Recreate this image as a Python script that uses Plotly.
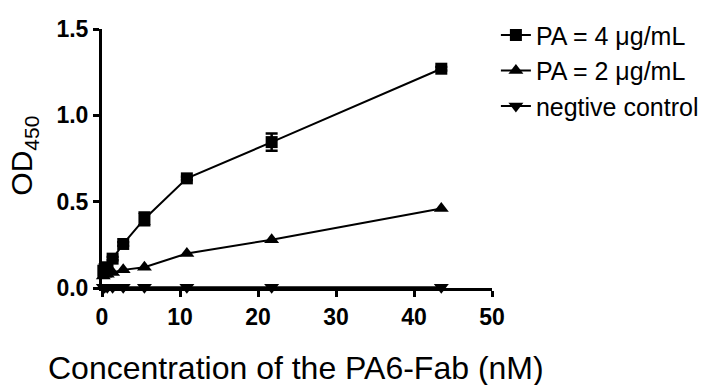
import plotly.graph_objects as go

conc = [0.17, 0.34, 0.68, 1.36, 2.72, 5.44, 10.88, 21.75, 43.5]
pa4 = [0.10, 0.11, 0.12, 0.17, 0.255, 0.40, 0.635, 0.845, 1.27]
pa4_err = [0.0, 0.0, 0.01, 0.01, 0.01, 0.037, 0.01, 0.05, 0.01]
pa2 = [0.07, 0.08, 0.08, 0.09, 0.105, 0.12, 0.20, 0.28, 0.46]
neg = [0.005, 0.005, 0.005, 0.005, 0.005, 0.005, 0.005, 0.005, 0.005]

names = ["PA = 4 \u03bcg/mL", "PA = 2 \u03bcg/mL", "negtive control"]
xticks = [0, 10, 20, 30, 40, 50]
yticks = [0.0, 0.5, 1.0, 1.5]
ytick_text = ["0.0", "0.5", "1.0", "1.5"]

FONT = "Arial, Liberation Sans, sans-serif"

fig = go.Figure()
fig.add_trace(go.Scatter(x=conc, y=pa4, name=names[0], mode="lines+markers",
                         line=dict(color="black", width=2),
                         marker=dict(symbol="square", size=12, color="black"),
                         error_y=dict(type="data", array=pa4_err, color="black", thickness=2.5, width=6),
                         cliponaxis=False))
fig.add_trace(go.Scatter(x=conc, y=pa2, name=names[1], mode="lines+markers",
                         line=dict(color="black", width=2),
                         marker=dict(symbol="triangle-up", size=13, color="black"),
                         cliponaxis=False))
fig.add_trace(go.Scatter(x=conc, y=neg, name=names[2], mode="lines+markers",
                         line=dict(color="black", width=2),
                         marker=dict(symbol="triangle-down", size=13, color="black"),
                         cliponaxis=False))

fig.update_layout(
    width=721, height=385,
    margin=dict(l=102, r=229, t=26, b=97),
    paper_bgcolor="white", plot_bgcolor="white",
    font=dict(family=FONT, color="black"),
    showlegend=True,
    legend=dict(x=1.01, y=1.065, xanchor="left", yanchor="top",
                font=dict(size=25, family=FONT), itemwidth=30,
                bgcolor="rgba(0,0,0,0)", tracegroupgap=0),
    xaxis=dict(range=[0, 50], tickvals=xticks, showgrid=False, zeroline=False,
               showline=True, linecolor="black", linewidth=3, automargin=False,
               ticks="outside", ticklen=6, tickwidth=2.5, tickcolor="black",
               tickfont=dict(size=23, family=FONT, weight="bold")),
    yaxis=dict(range=[0, 1.5], tickvals=yticks, ticktext=ytick_text, showgrid=False, zeroline=False,
               showline=True, linecolor="black", linewidth=3, automargin=False,
               ticks="outside", ticklen=6, tickwidth=2.5, tickcolor="black",
               tickfont=dict(size=23, family=FONT, weight="bold")),
    annotations=[
        dict(text="OD<sub>450</sub>", xref="paper", yref="paper", x=-0.20, y=0.511,
             xanchor="center", yanchor="middle", textangle=-90, showarrow=False,
             font=dict(size=30, family=FONT)),
        dict(text="Concentration of the PA6-Fab (nM)", xref="paper", yref="paper",
             x=0.497, y=-0.309, xanchor="center", yanchor="middle", showarrow=False,
             font=dict(size=32, family=FONT)),
    ],
)

fig.write_html("out.html", config={"displayModeBar": False},
               post_script="document.body.style.margin='0px';")
